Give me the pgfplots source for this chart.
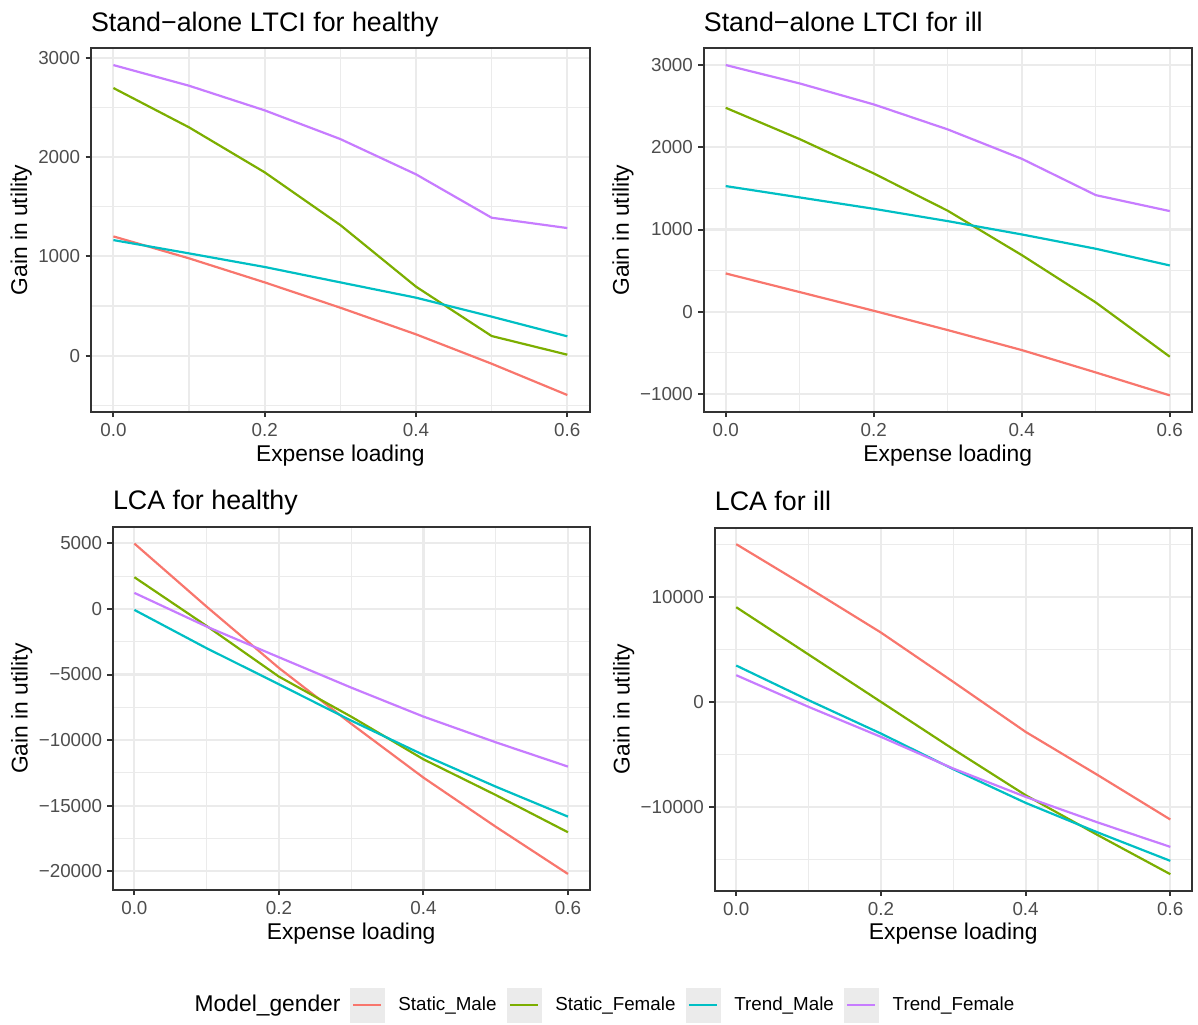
\documentclass[border=0pt]{standalone}
\usepackage{fontspec}
\setmainfont{Liberation Sans}
\usepackage{pgfplots}
\pgfplotsset{compat=1.18}

% ggplot2 hue palette for the four model/gender combinations
\definecolor{cSM}{HTML}{F8766D}
\definecolor{cSF}{HTML}{7CAE00}
\definecolor{cTM}{HTML}{00BFC4}
\definecolor{cTF}{HTML}{C77CFF}
\definecolor{gridgrey}{HTML}{EBEBEB}
\definecolor{framegrey}{HTML}{333333}
\definecolor{ticktext}{HTML}{4D4D4D}
\definecolor{keygrey}{HTML}{EBEBEB}

\pgfplotsset{
  panel/.style={
    scale only axis, anchor=south west,
    xmin=-0.03, xmax=0.63,
    xtick={0,0.2,0.4,0.6}, xticklabels={0.0,0.2,0.4,0.6},
    minor xtick={0.1,0.3,0.5},
    scaled y ticks=false,
    grid=both,
    major grid style={gridgrey, line width=1.1pt},
    minor grid style={gridgrey, line width=0.55pt},
    axis line style={framegrey, line width=1.0pt},
    tick style={framegrey, line width=1.0pt},
    major tick length=2.6pt, minor tick length=0pt,
    tick align=outside, tick pos=left,
    ticklabel style={font=\fontsize{9.4}{11}\selectfont, text=ticktext, inner sep=0pt},
    xticklabel style={yshift=-3pt},
    yticklabel style={xshift=-2.5pt},
    label style={font=\fontsize{11.4}{13}\selectfont, inner sep=0pt},
    xlabel={Expense loading}, ylabel={Gain in utility},
    xlabel shift=3.75pt, ylabel shift=3pt,
    title style={at={(0,1)}, anchor=base west, yshift=2.5pt, inner sep=0pt,
                 font=\fontsize{13.4}{16}\selectfont},
    every axis plot/.append style={line width=1.1pt, no markers},
  },
  keyimg/.style={legend image code/.code={
      \fill[keygrey] (0pt,-8.5pt) rectangle (17pt,8.5pt);
      \draw[line width=1.1pt,#1] (1.5pt,0pt) -- (15.5pt,0pt);}},
}

\begin{document}
\begin{tikzpicture}
\useasboundingbox (0,0) rectangle (599pt,512pt);

% Stand-alone LTCI, healthy
\begin{axis}[panel, at={(45.35pt,306pt)}, width=249.65pt, height=181.95pt,
  title={Stand−alone LTCI for healthy},
  ymin=-567, ymax=3097,
  ytick={0,1000,2000,3000}, yticklabels={0,1000,2000,3000},
  minor ytick={-500,500,1500,2500}]
\addplot[cSM] coordinates {(0,1201)(0.1,980)(0.2,738)(0.3,483)(0.4,215)(0.5,-81)(0.6,-396)};
\addplot[cSF] coordinates {(0,2695)(0.1,2299)(0.2,1846)(0.3,1315)(0.4,695)(0.5,198)(0.6,10)};
\addplot[cTM] coordinates {(0,1164)(0.1,1030)(0.2,893)(0.3,738)(0.4,584)(0.5,393)(0.6,195)};
\addplot[cTF] coordinates {(0,2926)(0.1,2718)(0.2,2470)(0.3,2181)(0.4,1826)(0.5,1389)(0.6,1285)};
\end{axis}

% Stand-alone LTCI, ill
\begin{axis}[panel, at={(351.75pt,306pt)}, width=244.25pt, height=181.75pt,
  title={Stand−alone LTCI for ill},
  ymin=-1219, ymax=3201,
  ytick={-1000,0,1000,2000,3000}, yticklabels={−1000,0,1000,2000,3000},
  minor ytick={-500,500,1500,2500}]
\addplot[cSM] coordinates {(0,466)(0.1,239)(0.2,12)(0.3,-223)(0.4,-466)(0.5,-738)(0.6,-1017)};
\addplot[cSF] coordinates {(0,2480)(0.1,2099)(0.2,1682)(0.3,1228)(0.4,689)(0.5,113)(0.6,-547)};
\addplot[cTM] coordinates {(0,1528)(0.1,1390)(0.2,1252)(0.3,1102)(0.4,940)(0.5,766)(0.6,563)};
\addplot[cTF] coordinates {(0,3000)(0.1,2776)(0.2,2521)(0.3,2217)(0.4,1860)(0.5,1418)(0.6,1224)};
\end{axis}

% LCA, healthy
\begin{axis}[panel, at={(56.35pt,67pt)}, width=238.45pt, height=181.5pt,
  title={LCA for healthy},
  ymin=-21425, ymax=6242,
  ytick={-20000,-15000,-10000,-5000,0,5000},
  yticklabels={−20000,−15000,−10000,−5000,0,5000},
  minor ytick={-17500,-12500,-7500,-2500,2500}]
\addplot[cSM] coordinates {(0,4980)(0.1,170)(0.2,-4500)(0.3,-8750)(0.4,-12857)(0.5,-16600)(0.6,-20200)};
\addplot[cSF] coordinates {(0,2414)(0.1,-1300)(0.2,-5158)(0.3,-8210)(0.4,-11460)(0.5,-14180)(0.6,-17022)};
\addplot[cTM] coordinates {(0,-76)(0.1,-2998)(0.2,-5742)(0.3,-8512)(0.4,-11128)(0.5,-13543)(0.6,-15830)};
\addplot[cTF] coordinates {(0,1220)(0.1,-1347)(0.2,-3684)(0.3,-5997)(0.4,-8207)(0.5,-10164)(0.6,-12018)};
\end{axis}

% LCA, ill
\begin{axis}[panel, at={(357.25pt,66.75pt)}, width=238.75pt, height=181.5pt,
  title={LCA for ill},
  ymin=-17996, ymax=16632,
  ytick={-10000,0,10000}, yticklabels={−10000,0,10000},
  minor ytick={-15000,-5000,5000,15000}]
\addplot[cSM] coordinates {(0,15042)(0.1,10876)(0.2,6614)(0.3,1908)(0.4,-2862)(0.5,-6996)(0.6,-11225)};
\addplot[cSF] coordinates {(0,9030)(0.1,4515)(0.2,0)(0.3,-4515)(0.4,-8903)(0.5,-12720)(0.6,-16440)};
\addplot[cTM] coordinates {(0,3466)(0.1,159)(0.2,-3021)(0.3,-6423)(0.4,-9634)(0.5,-12465)(0.6,-15167)};
\addplot[cTF] coordinates {(0,2544)(0.1,-477)(0.2,-3339)(0.3,-6360)(0.4,-9062)(0.5,-11511)(0.6,-13833)};
\end{axis}

% shared legend along the bottom
\begin{axis}[at={(0pt,0pt)}, anchor=south west, scale only axis,
  width=599pt, height=512pt, hide axis,
  xmin=0, xmax=1, ymin=0, ymax=1,
  legend columns=5, legend cell align=left,
  legend style={at={(0.5046,0.0186)}, anchor=center, draw=none, fill=none,
    inner sep=0pt, column sep=0pt, row sep=0pt,
    nodes={inner sep=0pt}, font=\fontsize{9.4}{11}\selectfont}]
\addlegendimage{empty legend}
\addlegendentry{\fontsize{11.4}{13}\selectfont Model\_gender\kern4.5pt}
\addlegendimage{keyimg=cSM}
\addlegendentry{\kern7pt Static\_Male\kern5pt}
\addlegendimage{keyimg=cSF}
\addlegendentry{\kern7pt Static\_Female\kern5pt}
\addlegendimage{keyimg=cTM}
\addlegendentry{\kern7pt Trend\_Male\kern5pt}
\addlegendimage{keyimg=cTF}
\addlegendentry{\kern7pt Trend\_Female}
\end{axis}
\end{tikzpicture}
\end{document}
